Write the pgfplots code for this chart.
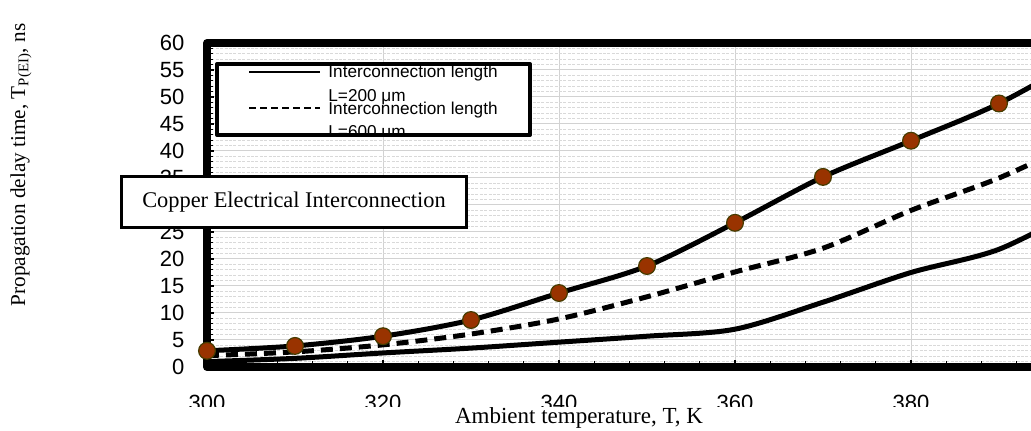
\documentclass[border=0pt]{standalone}
\usepackage{pgfplots}
\pgfplotsset{compat=1.18}
\usepackage{fontspec}
\setmainfont{Liberation Sans}
\newfontfamily\tnr{Liberation Serif}
\definecolor{mkfill}{RGB}{153,51,0}
\definecolor{mkedge}{RGB}{70,60,0}

\begin{document}
\begin{tikzpicture}
\useasboundingbox (0,0) rectangle (515.5pt,215.5pt);
\clip (0,0) rectangle (515.5pt,215.5pt);
\begin{axis}[
  at={(103.5pt,32pt)}, anchor=south west,
  scale only axis, width=440pt, height=162pt,
  xmin=300, xmax=400, ymin=0, ymax=60,
  xtick={300,320,...,400}, xticklabels={300,320,340,360,380,},
  ytick={0,5,...,60},
  minor x tick num=4, minor y tick num=4,
  xmajorgrids, ymajorgrids, yminorgrids,
  major grid style={draw=gray!35, line width=0.5pt},
  minor grid style={draw=gray!30, line width=0.4pt, dash pattern=on 1.5pt off 0.7pt},
  axis line style={line width=4pt, line join=round, line cap=round},
  tick style={black, line width=0.6pt},
  major tick length=3.6pt, minor tick length=2.8pt,
  xtick pos=bottom, ytick pos=left,
  tick label style={font=\fontsize{11}{12}\selectfont},
  /pgf/number format/assume math mode=true,
  yticklabel style={xshift=-7.8pt},
  xticklabel style={yshift=-10.3pt},
]
% L = 200 um (lower solid)
\addplot[black, line width=2.5pt, smooth, tension=0.5] coordinates {
 (300,1.0) (310,1.6) (320,2.6) (330,3.5) (340,4.6) (350,5.7) (360,7.0)
 (370,12.0) (380,17.5) (390,21.8) (400,30.0)};
% L = 600 um (dashed)
\addplot[black, line width=2.5pt, smooth, tension=0.5, dash pattern=on 6pt off 3.5pt] coordinates {
 (300,2.1) (310,2.8) (320,4.1) (330,6.1) (340,8.9) (350,13.0) (360,17.6)
 (370,22.0) (380,29.0) (390,35.0) (400,42.5)};
% upper solid with markers
\addplot[black, line width=2.5pt, smooth, tension=0.5] coordinates {
 (300,3.0) (310,3.9) (320,5.7) (330,8.7) (340,13.7) (350,18.7) (360,26.7)
 (370,35.2) (380,41.9) (390,48.8) (400,57.8)};
\addplot[only marks, mark=*, mark size=4.2pt, mark options={fill=mkfill, draw=mkedge, line width=0.6pt}] coordinates {
 (300,3.0) (310,3.9) (320,5.7) (330,8.7) (340,13.7) (350,18.7) (360,26.7)
 (370,35.2) (380,41.9) (390,48.8)};
\end{axis}
% cover the lower part of the tick labels, as in the reference
\fill[white] (0,0) rectangle (515.5pt,12pt);
\node[font=\tnr\fontsize{11.5}{13}\selectfont, anchor=base, inner sep=0pt] at (289.5pt,3.5pt) {Ambient temperature, T, K};
\node[font=\tnr\fontsize{10.6}{13}\selectfont, rotate=90, anchor=base, inner sep=0pt] at (12.5pt,133pt) {Propagation delay time, T\textsubscript{P(EI)}, ns};
% text box
\node[draw, line width=1.6pt, fill=white, minimum width=172.3pt, minimum height=25.3pt, inner sep=0pt,
      font=\tnr\fontsize{11.2}{13}\selectfont] at (147pt,114.5pt) {Copper Electrical Interconnection};
% legend
\fill[white] (108.5pt,148pt) rectangle (265pt,183.5pt);
\begin{scope}
\clip (108.5pt,148pt) rectangle (265pt,183.5pt);
\draw[line width=1.3pt] (124.5pt,179.5pt) -- (160pt,179.5pt);
\draw[line width=1.3pt, dash pattern=on 3.5pt off 2pt] (124.5pt,161.5pt) -- (160pt,161.5pt);
\begin{scope}[every node/.style={anchor=base west, inner sep=0pt, font=\fontsize{8.6}{10}\selectfont}]
\node at (164pt,176.5pt) {Interconnection length};
\node at (164pt,164.9pt) {L=200 μm};
\node at (164pt,158pt) {Interconnection length};
\node at (164pt,146.5pt) {L=600 μm};
\end{scope}
\end{scope}
\draw[line width=2pt, line join=round] (108.5pt,148pt) rectangle (265pt,183.5pt);
\end{tikzpicture}
\end{document}
